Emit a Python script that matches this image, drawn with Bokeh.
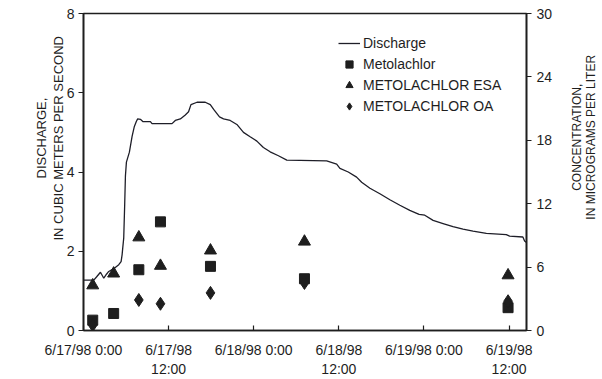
from math import pi
from bokeh.plotting import figure
from bokeh.layouts import row
from bokeh.models import Range1d, LinearAxis, FixedTicker, Legend, LegendItem, Title, Label
from bokeh.embed import file_html
from bokeh.resources import INLINE

# Discharge trace (hours after 6/17/98 0:00, cubic meters per second)
q_hours = [0, 1.45, 1.83, 2.39, 2.86, 3.24, 3.56, 4.26, 4.97, 5.30, 5.44, 5.53, 5.67,
           5.81, 5.91, 6.05, 6.47, 6.85, 7.17, 7.46, 7.64, 8.02, 8.40, 9.43, 9.66,
           12.48, 12.94, 13.65, 14.35, 14.81, 15.15, 16.0, 17.16, 17.87, 18.43, 19.17,
           19.74, 20.68, 21.62, 22.55, 23.49, 24.44, 25.36, 26.31, 27.48, 28.66,
           34.28, 35.69, 36.15, 37.32, 38.5, 39.21, 40.38, 41.78, 43.19, 44.6, 46.0,
           47.31, 48.11, 49.28, 50.69, 52.09, 53.5, 54.91, 56.79, 59.6, 60.07, 61.94,
           62.18, 62.45]
q_cms = [1.27, 1.27, 1.35, 1.47, 1.32, 1.42, 1.49, 1.56, 1.66, 1.74, 1.91, 2.08, 2.33,
         3.2, 3.9, 4.25, 4.5, 4.9, 5.15, 5.28, 5.34, 5.33, 5.27, 5.27, 5.22,
         5.22, 5.3, 5.34, 5.44, 5.52, 5.7, 5.76, 5.76, 5.7, 5.56, 5.39,
         5.34, 5.3, 5.2, 5.0, 4.89, 4.78, 4.62, 4.51, 4.41, 4.3,
         4.28, 4.2, 4.09, 4.0, 3.87, 3.74, 3.59, 3.45, 3.3, 3.16, 3.03,
         2.93, 2.91, 2.78, 2.7, 2.62, 2.56, 2.51, 2.45, 2.42, 2.38, 2.36,
         2.26, 2.22]

# Samples (hours after 6/17/98 0:00, micrograms per liter)
sample_hours = [1.3, 4.25, 7.8, 10.85, 17.9, 31.15, 59.85]
metolachlor = [0.98, 1.61, 5.75, 10.28, 6.07, 4.9, 2.16]
metolachlor_esa = [4.27, 5.39, 8.81, 6.12, 7.57, 8.41, 5.22]
metolachlor_oa = [0.5, float("nan"), 2.89, 2.53, 3.56, 4.5, 2.77]

x_ticks = [0, 12, 24, 36, 48, 60]
x_tick_labels = ["6/17/98 0:00", "6/17/98\n12:00", "6/18/98 0:00",
                 "6/18/98\n12:00", "6/19/98 0:00", "6/19/98\n12:00"]
q_ticks = [0, 2, 4, 6, 8]
c_ticks = [0, 6, 12, 18, 24, 30]

FONT = "Liberation Sans"
INK = "#1e1e1e"

p = figure(width=555, height=379, output_backend="svg", toolbar_location=None,
           x_range=Range1d(0, 62.45), y_range=Range1d(0, 8),
           min_border_left=83, min_border_right=28, min_border_top=13,
           min_border_bottom=46, x_axis_location="below")
p.extra_y_ranges = {"conc": Range1d(0, 30)}
p.grid.visible = False
p.outline_line_color = INK
p.outline_line_width = 1.6
p.background_fill_color = "white"
p.border_fill_color = "white"

# axes
xa = p.xaxis[0]
xa.ticker = FixedTicker(ticks=x_ticks)
xa.major_label_overrides = {t: s for t, s in zip(x_ticks, x_tick_labels)}
xa.major_tick_in = 5
xa.major_tick_out = 0
xa.minor_tick_line_color = None
xa.major_label_standoff = 11

ya = p.yaxis[0]
ya.ticker = FixedTicker(ticks=q_ticks)
ya.major_tick_in = 0
ya.major_tick_out = 5
ya.minor_tick_line_color = None
ya.major_label_standoff = 4

ra = LinearAxis(y_range_name="conc", ticker=FixedTicker(ticks=c_ticks))
ra.major_tick_in = 0
ra.major_tick_out = 5
ra.minor_tick_line_color = None
ra.major_label_standoff = 5
p.add_layout(ra, "right")

for ax in (xa, ya, ra):
    ax.axis_line_color = INK
    ax.axis_line_width = 1.6
    ax.major_tick_line_color = INK
    ax.major_tick_line_width = 1.2
    ax.major_label_text_font = FONT
    ax.major_label_text_font_size = "14px"
    ax.major_label_text_color = INK

# left axis title, two lines, placed upward from the frame bottom
p.add_layout(Title(text="IN CUBIC METERS PER SECOND", align="left", offset=90,
                   standoff=-4, text_font=FONT, text_font_size="13px",
                   text_font_style="normal", text_color=INK), "left")
p.add_layout(Title(text="DISCHARGE,", align="left", offset=152,
                   standoff=4, text_font=FONT, text_font_size="13px",
                   text_font_style="normal", text_color=INK), "left")

# data
q_line = p.line(q_hours, q_cms, line_color="#1e1e28", line_width=1.3)
sq = p.scatter(sample_hours, metolachlor, marker="square", size=10,
               color=INK, y_range_name="conc")
tri = p.scatter(sample_hours, metolachlor_esa, marker="triangle", size=12,
                color=INK, y_range_name="conc")
dia = p.scatter(sample_hours, metolachlor_oa, marker="diamond", size=13,
                color=INK, y_range_name="conc")

legend = Legend(items=[
    LegendItem(label="Discharge", renderers=[q_line]),
    LegendItem(label="Metolachlor", renderers=[sq]),
    LegendItem(label="METOLACHLOR ESA", renderers=[tri]),
    LegendItem(label="METOLACHLOR OA", renderers=[dia]),
], location=(255, 215))
legend.border_line_color = None
legend.background_fill_alpha = 0
legend.padding = 0
legend.margin = 0
legend.spacing = 3
legend.glyph_width = 22
legend.glyph_height = 18
legend.label_height = 18
legend.label_standoff = 3
legend.label_text_font = FONT
legend.label_text_font_size = "14px"
legend.label_text_color = INK
p.add_layout(legend, "center")

# right-hand axis title in a narrow companion panel (pixel-unit ranges)
side = figure(width=47, height=379, output_backend="svg", toolbar_location=None,
              x_range=Range1d(0, 47), y_range=Range1d(0, 379), min_border=0)
side.axis.visible = False
side.grid.visible = False
side.outline_line_color = None
side.border_fill_color = "white"
for xpos, txt in [(21, "CONCENTRATION,"), (35, "IN MICROGRAMS PER LITER")]:
    side.add_layout(Label(x=xpos, y=231, angle=pi / 2, text=txt,
                          text_align="center", text_baseline="middle",
                          text_font=FONT, text_font_size="12px", text_color=INK))

layout = row(p, side, spacing=0)
open("out.html", "w").write(file_html(layout, INLINE))
